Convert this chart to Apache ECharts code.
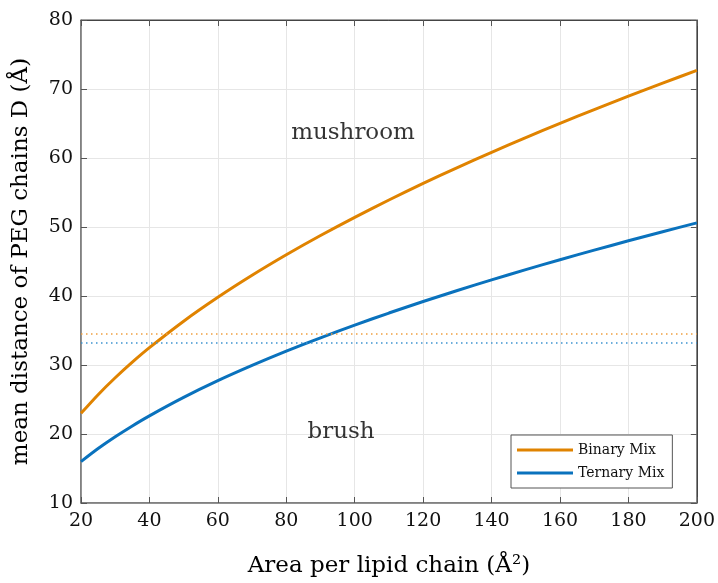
<!DOCTYPE html>
<html>
<head>
<meta charset="utf-8">
<script src="https://cdn.jsdelivr.net/npm/echarts@6/dist/echarts.min.js"></script>
<style>
  html, body { margin: 0; padding: 0; background: #fff; }
  #chart { width: 718px; height: 583px; }
</style>
</head>
<body>
<div id="chart"></div>
<script>
// Area per lipid chain (Å²)
const area = [20, 25, 30, 35, 40, 50, 60, 70, 80, 90, 100, 110, 120, 130, 140, 150, 160, 170, 180, 190, 200];
// Mean distance of PEG chains D (Å)
const binaryMix = [22.99, 25.70, 28.15, 30.41, 32.51, 36.35, 39.81, 43.00, 45.97, 48.76, 51.40, 53.91, 56.31, 58.61, 60.82, 62.95, 65.02, 67.02, 68.96, 70.85, 72.69];
const ternaryMix = [16.00, 17.89, 19.60, 21.17, 22.63, 25.30, 27.72, 29.93, 32.00, 33.94, 35.78, 37.53, 39.20, 40.80, 42.34, 43.82, 45.26, 46.65, 48.00, 49.32, 50.60];
// Mushroom/brush transition thresholds
const binaryThreshold = 34.6;
const ternaryThreshold = 33.2;
// Regime labels: [x, y, text]
const regimeLabels = [[99.5, 63.6, 'mushroom'], [96, 20.3, 'brush']];

const xTicks = [20, 200, 20];   // min, max, interval
const yTicks = [10, 80, 10];

const ORANGE = '#E08300';
const BLUE = '#0A72BD';
const SERIF = '"DejaVu Serif", "Liberation Serif", serif';

const chart = echarts.init(document.getElementById('chart'));

const pairs = (ys) => area.map((x, i) => [x, ys[i]]);

const commonTick = { show: true, inside: true, length: 6, lineStyle: { color: '#555', width: 1 } };

chart.setOption({
  animation: false,
  grid: {
    left: 81, right: 17, top: 20, bottom: 75,
    show: true, borderColor: '#444', borderWidth: 1, backgroundColor: '#fff'
  },
  xAxis: [{
    type: 'value', min: xTicks[0], max: xTicks[1], interval: xTicks[2],
    name: 'Area per lipid chain (Å²)', nameLocation: 'middle', nameGap: 52,
    nameTextStyle: { fontFamily: SERIF, fontSize: 23, color: '#000' },
    axisLine: { show: true, lineStyle: { color: '#777', width: 1.5 } },
    axisTick: commonTick,
    axisLabel: { fontFamily: SERIF, fontSize: 19, color: '#111', margin: 9 },
    splitLine: { show: true, lineStyle: { color: '#e6e6e6', width: 1 } }
  }, {
    type: 'value', position: 'top', min: xTicks[0], max: xTicks[1], interval: xTicks[2],
    axisLine: { show: true, lineStyle: { color: '#444', width: 1 } },
    axisTick: commonTick, axisLabel: { show: false }, splitLine: { show: false }
  }],
  yAxis: [{
    type: 'value', min: yTicks[0], max: yTicks[1], interval: yTicks[2],
    name: 'mean distance of PEG chains D (Å)', nameLocation: 'middle', nameGap: 48,
    nameTextStyle: { fontFamily: SERIF, fontSize: 23, color: '#000' },
    axisLine: { show: true, lineStyle: { color: '#777', width: 1.5 } },
    axisTick: commonTick,
    axisLabel: { fontFamily: SERIF, fontSize: 19, color: '#111', margin: 8 },
    splitLine: { show: true, lineStyle: { color: '#e6e6e6', width: 1 } }
  }, {
    type: 'value', position: 'right', min: yTicks[0], max: yTicks[1], interval: yTicks[2],
    axisLine: { show: true, lineStyle: { color: '#444', width: 1 } },
    axisTick: commonTick, axisLabel: { show: false }, splitLine: { show: false }
  }],
  legend: {
    orient: 'vertical', left: 511, top: 435,
    padding: [8, 8, 8, 6], itemGap: 9,
    backgroundColor: '#fff', borderColor: '#555', borderWidth: 1, borderRadius: 0,
    icon: 'rect', itemWidth: 56, itemHeight: 3,
    textStyle: { fontFamily: SERIF, fontSize: 14, color: '#111' },
    data: ['Binary Mix', 'Ternary Mix']
  },
  series: [{
    name: 'Binary Mix', type: 'line', smooth: 0.25, showSymbol: false,
    data: pairs(binaryMix), lineStyle: { color: ORANGE, width: 3 }, itemStyle: { color: ORANGE },
    markLine: {
      silent: true, symbol: 'none', label: { show: false },
      lineStyle: { color: '#F0A040', type: [1.5, 3.5], width: 1.5 },
      data: [{ yAxis: binaryThreshold }]
    }
  }, {
    name: 'Ternary Mix', type: 'line', smooth: 0.25, showSymbol: false,
    data: pairs(ternaryMix), lineStyle: { color: BLUE, width: 3 }, itemStyle: { color: BLUE },
    markLine: {
      silent: true, symbol: 'none', label: { show: false },
      lineStyle: { color: '#3C92D0', type: [1.5, 3.5], width: 1.5 },
      data: [{ yAxis: ternaryThreshold }]
    }
  }, {
    name: 'regimes', type: 'scatter', symbolSize: 0, silent: true,
    data: regimeLabels.map(r => ({ value: [r[0], r[1]], name: r[2] })),
    label: {
      show: true, position: 'inside', formatter: p => p.name,
      fontFamily: SERIF, fontSize: 23, color: '#000'
    }
  }]
});
</script>
</body>
</html>
